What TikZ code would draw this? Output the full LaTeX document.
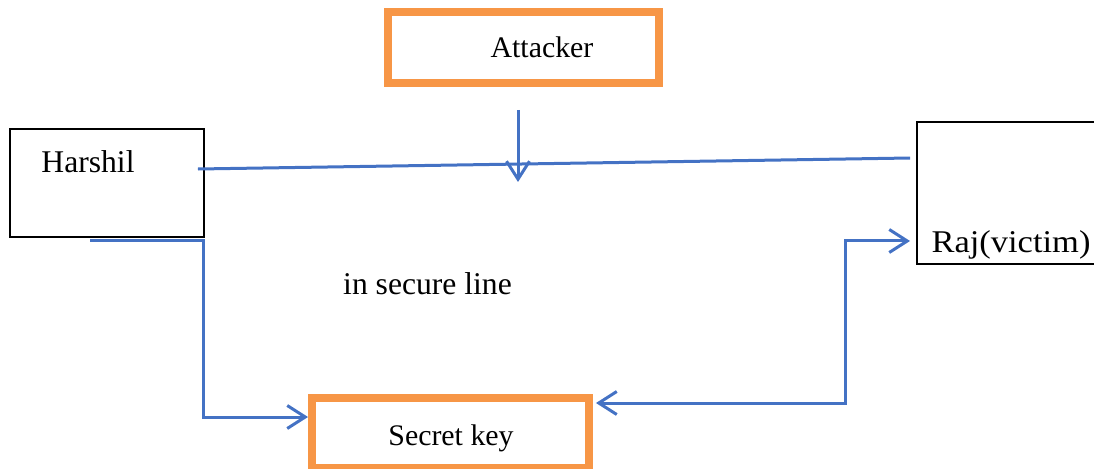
\documentclass[tikz,border=0pt]{standalone}
\usepackage{fontspec}
\usepackage{graphicx}
\setmainfont{Liberation Serif}
\usetikzlibrary{arrows.meta}
\definecolor{wireblue}{RGB}{68,114,196}
\definecolor{boxorange}{RGB}{247,150,70}
\begin{document}
\begin{tikzpicture}[x=0.02cm,y=-0.02cm,font=\fontsize{17}{20}\selectfont,
	>={Straight Barb[length=0.36cm,width=0.46cm]},
	keybox/.style={draw=boxorange,line width=0.16cm,minimum width=5.42cm,minimum height=1.42cm},
	userbox/.style={draw=black,line width=0.04cm},
	wire/.style={draw=wireblue,line width=0.06cm},
	bigtext/.style={font=\fontsize{18}{21}\selectfont}]
		\useasboundingbox (0,0) rectangle (1094,469);
		\clip (0,0) rectangle (1094,469);
		\node[keybox] (attacker) at (523.5,47.5) {};
		\node[keybox,minimum width=5.54cm,minimum height=1.4cm] (secret) at (450.5,433) {};
		\node[userbox,minimum width=3.88cm,minimum height=2.16cm] (harshil) at (107,183) {};
		\node[userbox,minimum width=3.86cm,minimum height=2.84cm] (raj) at (1013.5,193) {};
		\node[anchor=base] at (542,58) {Attacker};
		\node[anchor=base] at (451,445) {Secret key};
		\node[anchor=base,bigtext] at (88,173) {Harshil};
		\node[anchor=base,bigtext] at (1011,253) {\scalebox{1.09}[1]{Raj(victim)}};
		\node[anchor=base,bigtext] (insecure) at (427.5,295) {in secure line};
		\draw[wire] ([xshift=-0.14cm,yshift=0.28cm]harshil.east) -- ([xshift=-0.12cm,yshift=0.7cm]raj.west);
		\draw[wire,->] ([xshift=-0.11cm,yshift=-0.46cm]attacker.south) -- ++(0,72);
		\draw[wire,->] ([xshift=-0.34cm,yshift=-0.06cm]harshil.south) -- ++(113,0) |- ([yshift=0.32cm]secret.west);
		\draw[wire,<->] ([xshift=0.06cm,yshift=0.6cm]secret.east) -- ++(250,0) |- ([xshift=-0.12cm,yshift=-0.96cm]raj.west);
	\end{tikzpicture}
\end{document}
